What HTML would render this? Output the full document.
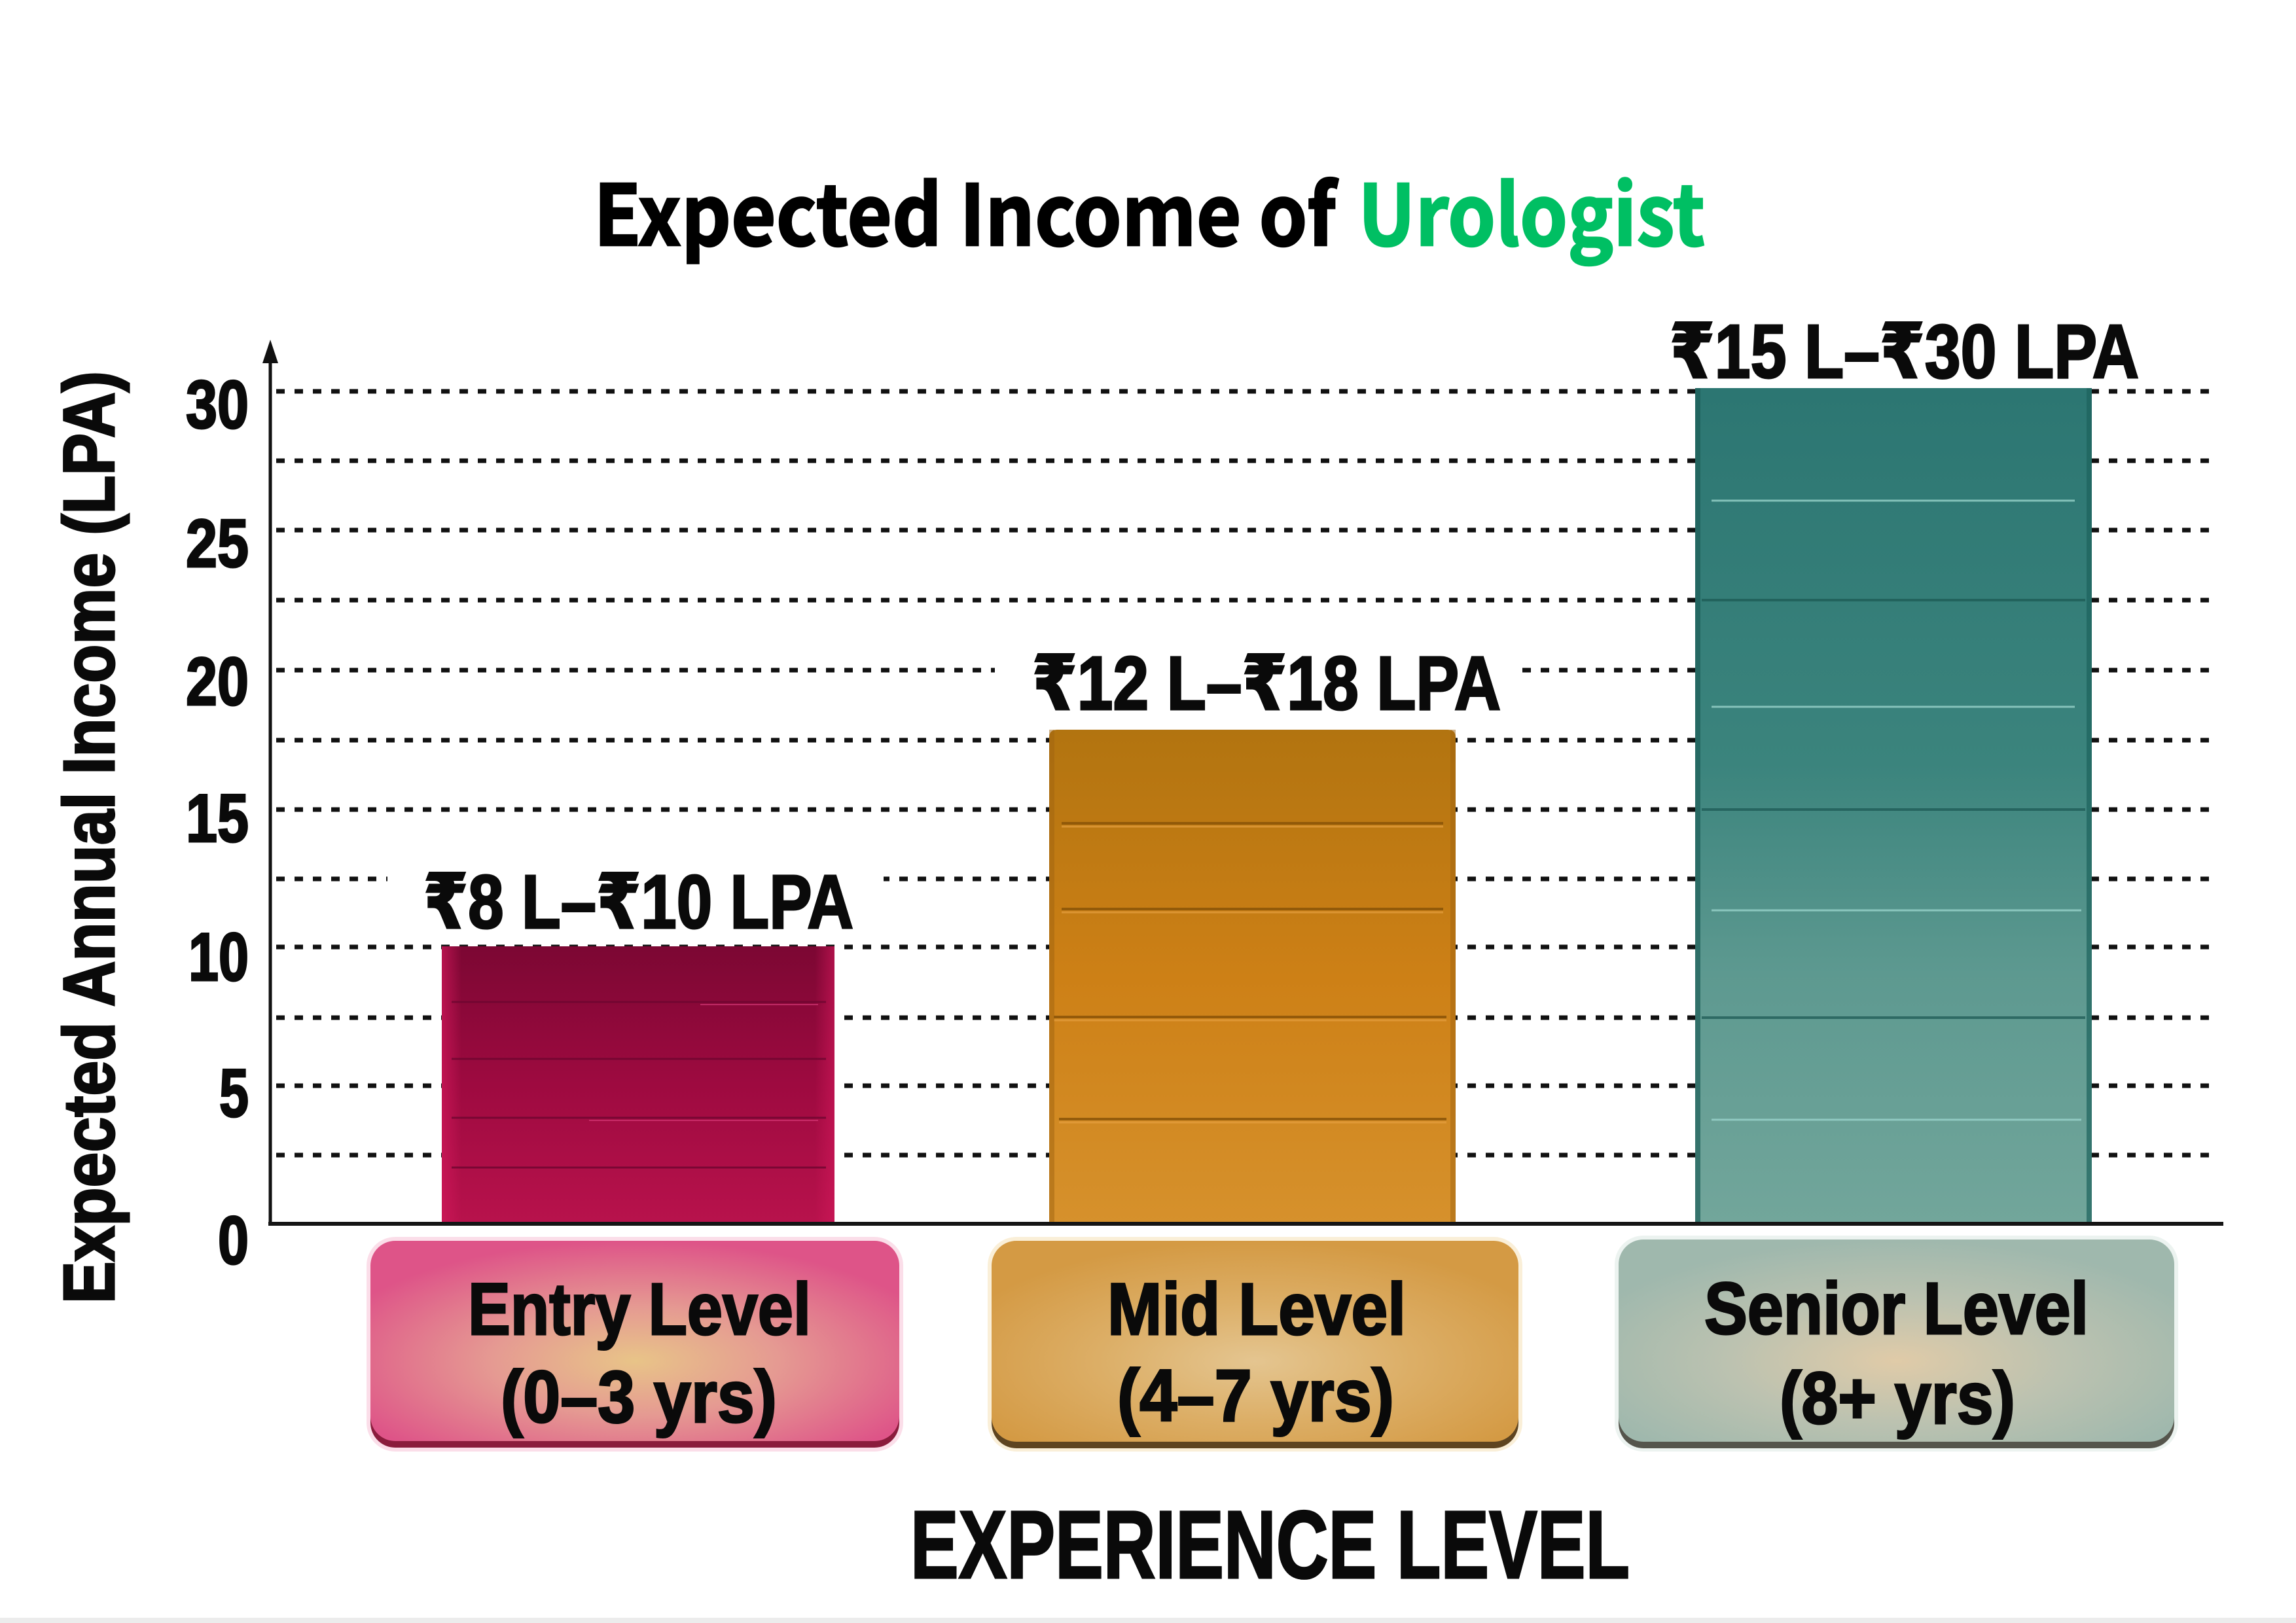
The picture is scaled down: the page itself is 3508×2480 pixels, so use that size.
<!DOCTYPE html>
<html>
<head>
<meta charset="utf-8">
<style>
html,body{margin:0;padding:0;background:#fff;}
svg{display:block;}
.n{font-family:"Liberation Sans Narrow","Liberation Sans","DejaVu Sans",sans-serif;font-weight:bold;fill:#0a0a0a;stroke:#0a0a0a;stroke-width:3;}
.t{font-family:"Noto Sans CJK JP","Liberation Sans",sans-serif;font-weight:bold;stroke-width:2.5;}
</style>
</head>
<body>
<svg width="3508" height="2480" viewBox="0 0 3508 2480" xmlns="http://www.w3.org/2000/svg">
<defs>
  <linearGradient id="gEntry" x1="0" y1="0" x2="0" y2="1">
    <stop offset="0" stop-color="#7c0733"/>
    <stop offset="0.5" stop-color="#9e0a40"/>
    <stop offset="1" stop-color="#b8124c"/>
  </linearGradient>
  <linearGradient id="gEntryEdge" x1="0" y1="0" x2="1" y2="0">
    <stop offset="0" stop-color="#d0185a" stop-opacity="0.7"/>
    <stop offset="0.05" stop-color="#d0185a" stop-opacity="0"/>
    <stop offset="0.95" stop-color="#d0185a" stop-opacity="0"/>
    <stop offset="1" stop-color="#d0185a" stop-opacity="0.6"/>
  </linearGradient>
  <linearGradient id="gMid" x1="0" y1="0" x2="0" y2="1">
    <stop offset="0" stop-color="#b27410"/>
    <stop offset="0.5" stop-color="#cd8016"/>
    <stop offset="1" stop-color="#d6912c"/>
  </linearGradient>
  <linearGradient id="gSen" x1="0" y1="0" x2="0" y2="1">
    <stop offset="0" stop-color="#2c7672"/>
    <stop offset="0.45" stop-color="#3b847d"/>
    <stop offset="0.7" stop-color="#5d9990"/>
    <stop offset="1" stop-color="#72a69b"/>
  </linearGradient>
  <radialGradient id="bEntry" cx="0.5" cy="0.6" r="0.6">
    <stop offset="0" stop-color="#e8c488"/>
    <stop offset="0.45" stop-color="#e59a92"/>
    <stop offset="1" stop-color="#de5488"/>
  </radialGradient>
  <radialGradient id="bMid" cx="0.5" cy="0.6" r="0.6">
    <stop offset="0" stop-color="#e4c590"/>
    <stop offset="0.5" stop-color="#dcae66"/>
    <stop offset="1" stop-color="#d49a44"/>
  </radialGradient>
  <radialGradient id="bSen" cx="0.5" cy="0.6" r="0.6">
    <stop offset="0" stop-color="#e0cba8"/>
    <stop offset="0.5" stop-color="#bcc2b0"/>
    <stop offset="1" stop-color="#9fb8ad"/>
  </radialGradient>
</defs>

<rect x="0" y="0" width="3508" height="2480" fill="#ffffff"/>

<!-- Title -->
<text class="t" x="907" y="375" font-size="128" fill="#000" stroke="#000" textLength="1134" lengthAdjust="spacingAndGlyphs">Expected Income of</text>
<text class="t" x="2075" y="375" font-size="128" fill="#00bf63" stroke="#00bf63" textLength="530" lengthAdjust="spacingAndGlyphs">Urologist</text>

<!-- Gridlines -->
<g stroke="#111" stroke-width="7" stroke-dasharray="13 15" fill="none">
  <line x1="422" y1="598" x2="3384" y2="598"/>
  <line x1="422" y1="704" x2="3384" y2="704"/>
  <line x1="422" y1="810" x2="3384" y2="810"/>
  <line x1="422" y1="917" x2="3384" y2="917"/>
  <line x1="422" y1="1024" x2="3384" y2="1024"/>
  <line x1="422" y1="1131" x2="3384" y2="1131"/>
  <line x1="422" y1="1237" x2="3384" y2="1237"/>
  <line x1="422" y1="1343" x2="3384" y2="1343"/>
  <line x1="422" y1="1447" x2="3384" y2="1447"/>
  <line x1="422" y1="1555" x2="3384" y2="1555"/>
  <line x1="422" y1="1659" x2="3384" y2="1659"/>
  <line x1="422" y1="1765" x2="3384" y2="1765"/>
</g>

<!-- label backgrounds breaking gridlines -->
<rect x="592" y="1318" width="758" height="110" fill="#fff"/>
<rect x="1520" y="985" width="806" height="112" fill="#fff"/>

<!-- Entry bar -->
<rect x="675" y="1446" width="600" height="424" fill="url(#gEntry)"/>
<rect x="675" y="1446" width="600" height="424" fill="url(#gEntryEdge)"/>
<g stroke="#6e0630" stroke-width="3" opacity="0.8">
  <line x1="690" y1="1531" x2="1262" y2="1531"/>
  <line x1="690" y1="1618" x2="1262" y2="1618"/>
  <line x1="690" y1="1708" x2="1262" y2="1708"/>
  <line x1="690" y1="1784" x2="1262" y2="1784"/>
</g>
<g stroke="#e04080" stroke-width="2" opacity="0.6">
  <line x1="1070" y1="1535" x2="1250" y2="1535"/>
  <line x1="900" y1="1712" x2="1250" y2="1712"/>
</g>

<!-- Mid bar -->
<path d="M1603 1870 L1603 1127 Q1603 1115 1615 1115 L2212 1115 Q2224 1115 2224 1127 L2224 1870 Z" fill="url(#gMid)"/>
<g stroke="#8a5408" stroke-width="4" opacity="0.85">
  <line x1="1622" y1="1258" x2="2205" y2="1258"/>
  <line x1="1622" y1="1389" x2="2205" y2="1389"/>
  <line x1="1610" y1="1554" x2="2210" y2="1554"/>
  <line x1="1618" y1="1710" x2="2210" y2="1710"/>
</g>
<g stroke="#e6a040" stroke-width="3" opacity="0.7">
  <line x1="1622" y1="1263" x2="2205" y2="1263"/>
  <line x1="1622" y1="1394" x2="2205" y2="1394"/>
  <line x1="1610" y1="1559" x2="2210" y2="1559"/>
  <line x1="1618" y1="1715" x2="2210" y2="1715"/>
</g>
<rect x="1603" y="1115" width="8" height="755" fill="#a06410" opacity="0.5"/>
<rect x="2216" y="1115" width="8" height="755" fill="#a06410" opacity="0.5"/>

<!-- Senior bar -->
<rect x="2590" y="593" width="606" height="1277" fill="url(#gSen)"/>
<rect x="2590" y="593" width="8" height="1277" fill="#1c5e58" opacity="0.7"/>
<rect x="3188" y="593" width="8" height="1277" fill="#1c625c" opacity="0.7"/>
<g stroke="#1d5a55" stroke-width="4" opacity="0.75">
  <line x1="2600" y1="917" x2="3186" y2="917"/>
  <line x1="2600" y1="1237" x2="3186" y2="1237"/>
  <line x1="2600" y1="1555" x2="3186" y2="1555"/>
</g>
<g stroke="#9ad4cc" stroke-width="3" opacity="0.8">
  <line x1="2615" y1="765" x2="3170" y2="765"/>
  <line x1="2615" y1="1080" x2="3170" y2="1080"/>
  <line x1="2615" y1="1391" x2="3180" y2="1391"/>
  <line x1="2615" y1="1711" x2="3180" y2="1711"/>
</g>

<!-- Axes -->
<line x1="413" y1="540" x2="413" y2="1873" stroke="#111" stroke-width="5"/>
<polygon points="413,519 401,555 425,555" fill="#111"/>
<line x1="410" y1="1870" x2="3397" y2="1870" stroke="#151515" stroke-width="6"/>

<!-- Y tick labels -->
<g class="n" font-size="104">
  <text x="284" y="654" textLength="96" lengthAdjust="spacingAndGlyphs">30</text>
  <text x="284" y="866" textLength="96" lengthAdjust="spacingAndGlyphs">25</text>
  <text x="284" y="1077" textLength="96" lengthAdjust="spacingAndGlyphs">20</text>
  <text x="284" y="1286" textLength="96" lengthAdjust="spacingAndGlyphs">15</text>
  <text x="288" y="1498" textLength="92" lengthAdjust="spacingAndGlyphs">10</text>
  <text x="335" y="1706" textLength="45" lengthAdjust="spacingAndGlyphs">5</text>
  <text x="333" y="1931" textLength="47" lengthAdjust="spacingAndGlyphs">0</text>
</g>

<!-- Y axis title -->
<text class="n" font-size="110" transform="translate(174,1992) rotate(-90)" textLength="1425" lengthAdjust="spacingAndGlyphs">Expected Annual Income (LPA)</text>

<!-- Value labels -->
<text class="n" x="647" y="1418" font-size="116" textLength="657" lengthAdjust="spacingAndGlyphs">₹8 L–₹10 LPA</text>
<text class="n" x="1577" y="1084" font-size="116" textLength="716" lengthAdjust="spacingAndGlyphs">₹12 L–₹18 LPA</text>
<text class="n" x="2551" y="577" font-size="116" textLength="717" lengthAdjust="spacingAndGlyphs">₹15 L–₹30 LPA</text>

<!-- Category boxes -->
<rect x="560" y="1890" width="820" height="328" rx="44" fill="#f4a0c0" opacity="0.35"/>
<rect x="566" y="1900" width="808" height="312" rx="38" fill="#8a1c3c"/>
<rect x="566" y="1896" width="808" height="306" rx="38" fill="url(#bEntry)"/>
<rect x="1509" y="1890" width="817" height="328" rx="44" fill="#f0d090" opacity="0.35"/>
<rect x="1515" y="1900" width="805" height="313" rx="38" fill="#5e4420"/>
<rect x="1515" y="1896" width="805" height="307" rx="38" fill="url(#bMid)"/>
<rect x="2467" y="1888" width="861" height="330" rx="44" fill="#c8dcd4" opacity="0.35"/>
<rect x="2473" y="1898" width="849" height="315" rx="38" fill="#55554c"/>
<rect x="2473" y="1894" width="849" height="309" rx="38" fill="url(#bSen)"/>

<g class="n" font-size="112">
  <text x="715" y="2039" textLength="524" lengthAdjust="spacingAndGlyphs">Entry Level</text>
  <text x="765" y="2173" textLength="422" lengthAdjust="spacingAndGlyphs">(0–3 yrs)</text>
  <text x="1692" y="2039" textLength="456" lengthAdjust="spacingAndGlyphs">Mid Level</text>
  <text x="1707" y="2171" textLength="423" lengthAdjust="spacingAndGlyphs">(4–7 yrs)</text>
  <text x="2604" y="2038" textLength="587" lengthAdjust="spacingAndGlyphs">Senior Level</text>
  <text x="2719" y="2175" textLength="360" lengthAdjust="spacingAndGlyphs">(8+ yrs)</text>
</g>

<!-- X axis title -->
<text class="n" x="1391" y="2411" font-size="147" textLength="1099" lengthAdjust="spacingAndGlyphs">EXPERIENCE LEVEL</text>

<!-- bottom light border -->
<rect x="0" y="2472" width="3508" height="8" fill="#ececec"/>
</svg>
</body>
</html>
